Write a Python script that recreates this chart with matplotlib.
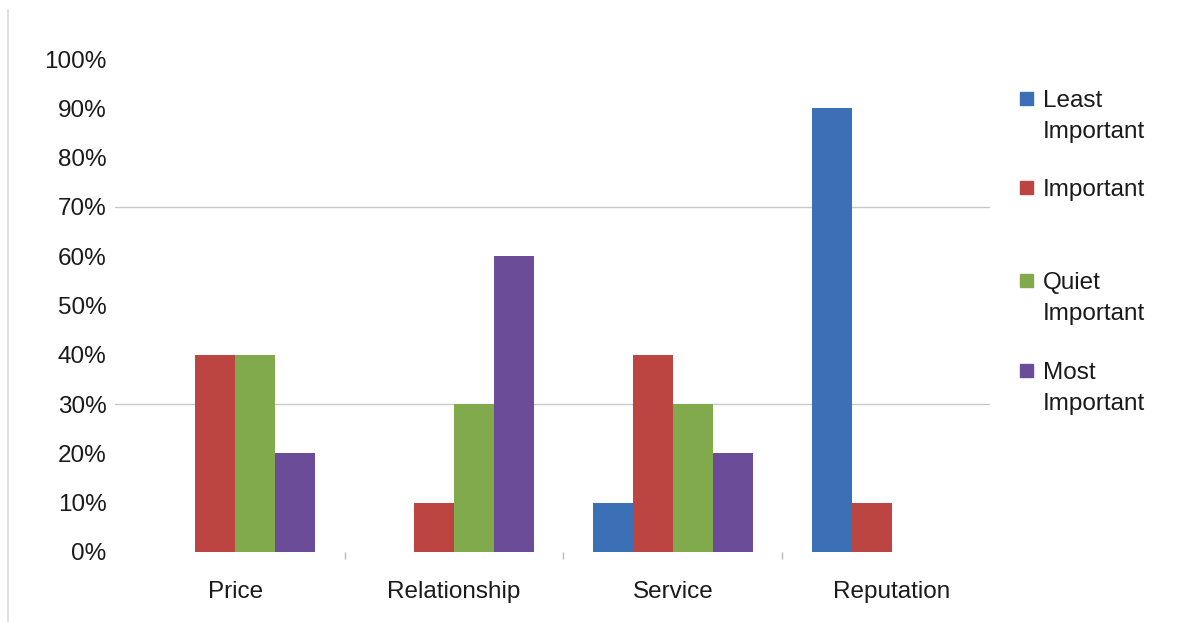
import matplotlib
matplotlib.use("Agg")
import matplotlib.pyplot as plt
from matplotlib.patches import Rectangle
from matplotlib.lines import Line2D
from matplotlib.ticker import FuncFormatter

categories = ["Price", "Relationship", "Service", "Reputation"]
series_names = ["Least\nImportant", "Important", "Quiet\nImportant", "Most\nImportant"]
least_important = [0, 0, 10, 90]
important = [40, 10, 40, 10]
quiet_important = [40, 30, 30, 0]
most_important = [20, 60, 20, 0]
y_ticks = [0, 10, 20, 30, 40, 50, 60, 70, 80, 90, 100]
grid_levels = [30, 70]

colors = ["#3B6FB6", "#BC4541", "#80AA4B", "#6A4C98"]
series = [least_important, important, quiet_important, most_important]

plt.rcParams['font.family'] = ['Liberation Sans', 'DejaVu Sans']

fig = plt.figure(figsize=(11.87, 6.22), dpi=100)
ax = fig.add_axes([115/1187, 1-552/622, 875/1187, (552-59)/622])

n = len(series)
bw = 0.183
x = list(range(len(categories)))
for i, (vals, c) in enumerate(zip(series, colors)):
    offs = (i - (n-1)/2) * bw
    ax.bar([xi + offs for xi in x], vals, width=bw, color=c, zorder=3, linewidth=0)

for g in grid_levels:
    ax.axhline(g, color="#c8c8c8", linewidth=1.0, zorder=1)

ax.set_ylim(0, 100)
ax.set_xlim(-0.55, 3.45)
ax.set_yticks(y_ticks)
ax.yaxis.set_major_formatter(FuncFormatter(lambda v, p: f"{int(v)}%"))
ax.tick_params(axis='y', length=0, pad=6, labelsize=17.5, labelcolor="#1a1a1a")
ax.set_xticks(x)
ax.set_xticklabels(categories)
ax.tick_params(axis='x', which='major', length=0, pad=21, labelsize=17.5, labelcolor="#1a1a1a")
ax.set_xticks([0.5, 1.5, 2.5], minor=True)
ax.tick_params(axis='x', which='minor', length=5, color="#bbbbbb", width=1)
for s in ax.spines.values():
    s.set_visible(False)

# left border line of the scanned image
fig.add_artist(Line2D([8/1187, 8/1187], [0, 1-10/622], color="#d8d8d8", linewidth=1.2))

# legend drawn manually
legend_y = [98, 187, 280, 370]  # top line center in pixels
for name, c, yy in zip(series_names, colors, legend_y):
    fig.add_artist(Rectangle((1020/1187, 1-(yy+7)/622), 13/1187, 13/622,
                             transform=fig.transFigure, color=c))
    fig.text(1043/1187, 1-(yy-8)/622, name, fontsize=17.5, va='top', ha='left',
             color="#1a1a1a", linespacing=1.55)

fig.savefig("out.png", dpi=100)
